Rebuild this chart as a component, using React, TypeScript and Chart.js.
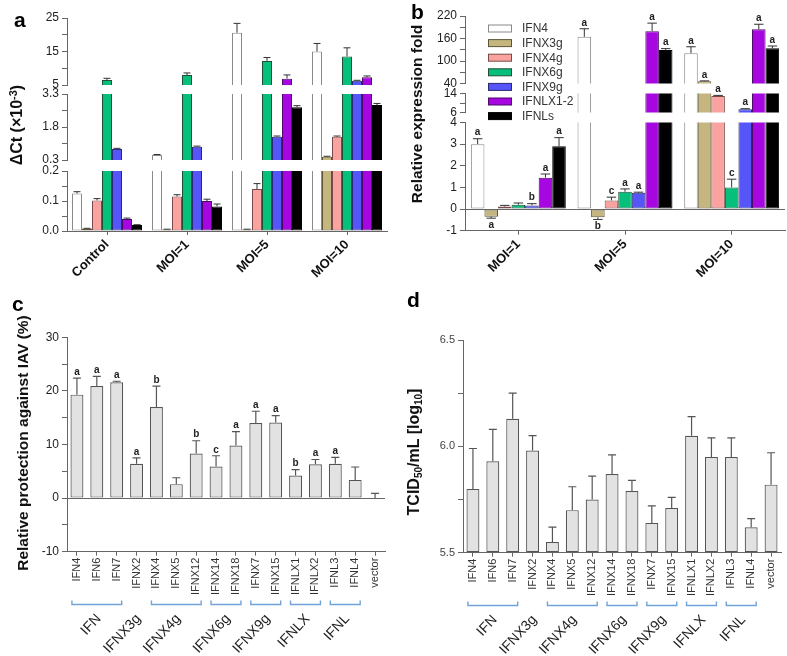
import React, { useEffect, useRef } from 'react';
import { Chart, registerables } from 'chart.js';

Chart.register(...registerables);

const FONT = "'Liberation Sans', Arial, Helvetica, sans-serif";
Chart.defaults.font.family = FONT;
Chart.defaults.color = '#333';

// ---------------- shared series (panels a, b) ----------------
const seriesNames = ['IFN4', 'IFNX3g', 'IFNX4g', 'IFNX6g', 'IFNX9g', 'IFNLX1-2', 'IFNLs'];
const seriesFill = ['#FFFFFF', '#C4B67E', '#F9A2A0', '#05BF7A', '#5656F8', '#A606E0', '#000000'];
const seriesBorder = ['#8A8A8A', '#5F5638', '#7A4B4A', '#1F4F3A', '#2A2A70', '#4A0A66', '#000000'];

// ---------------- panel a : ΔCt (x10^-3) ----------------
const aCategories = ['Control', 'MOI=1', 'MOI=5', 'MOI=10'];
const aIFN4 = [0.125, 0.53, 20.6, 15.0];
const aIFN4Up = [0.131, 0.55, 23.4, 17.4];
const aIFNX3g = [0.008, 0.005, 0.005, 0.45];
const aIFNX3gUp = [0.009, 0.006, 0.006, 0.47];
const aIFNX4g = [0.102, 0.115, 0.14, 1.36];
const aIFNX4gUp = [0.108, 0.121, 0.158, 1.39];
const aIFNX6g = [6.5, 8.0, 12.2, 13.5];
const aIFNX6gUp = [7.0, 8.6, 13.2, 16.1];
const aIFNX9g = [0.8, 0.9, 1.36, 6.3];
const aIFNX9gUp = [0.83, 0.93, 1.39, 6.4];
const aIFNLX12 = [0.04, 0.1, 6.9, 7.3];
const aIFNLX12Up = [0.043, 0.106, 8.0, 7.7];
const aIFNLs = [0.02, 0.082, 2.7, 2.8];
const aIFNLsUp = [0.021, 0.09, 2.77, 2.87];

// ---------------- panel b : relative expression fold ----------------
const bCategories = ['MOI=1', 'MOI=5', 'MOI=10'];
const bIFN4 = [3.0, 164.5, 120.8];
const bIFN4Up = [3.25, 186, 138];
const bIFN4Sig = ['a', 'a', 'a'];
const bIFNX3g = [-0.35, -0.38, 46];
const bIFNX3gUp = [-0.42, -0.48, 47];
const bIFNX3gSig = ['a', 'b', 'a'];
const bIFNX4g = [0.12, 0.4, 12.9];
const bIFNX4gUp = [0.17, 0.55, 13.2];
const bIFNX4gSig = ['', 'c', 'a'];
const bIFNX6g = [0.2, 0.8, 1.0];
const bIFNX6gUp = [0.28, 0.93, 1.38];
const bIFNX6gSig = ['', 'a', 'c'];
const bIFNX9g = [0.17, 0.75, 7.4];
const bIFNX9gUp = [0.25, 0.78, 7.6];
const bIFNX9gSig = ['b', 'a', 'a'];
const bIFNLX12 = [1.45, 179.5, 184.7];
const bIFNLX12Up = [1.62, 201, 198];
const bIFNLX12Sig = ['a', 'a', 'a'];
const bIFNLs = [2.9, 129.5, 134];
const bIFNLsUp = [3.3, 133, 140];
const bIFNLsSig = ['a', 'a', 'a'];

// ---------------- panels c, d ----------------
const cdCategories = ['IFN4', 'IFN6', 'IFN7', 'IFNX2', 'IFNX4', 'IFNX5', 'IFNX12', 'IFNX14', 'IFNX18', 'IFNX7', 'IFNX15', 'IFNLX1', 'IFNLX2', 'IFNL3', 'IFNL4', 'vector'];
const cProtection = [19.3, 20.9, 21.6, 6.4, 17.0, 2.6, 8.3, 5.9, 9.8, 14.0, 14.1, 4.2, 6.3, 6.4, 3.4, 0];
const cProtectionUp = [22.4, 22.7, 21.8, 7.5, 20.9, 3.8, 10.7, 7.9, 12.4, 16.2, 15.4, 5.3, 7.2, 7.6, 5.8, 0.9];
const cSig = ['a', 'a', 'a', 'a', 'b', '', 'b', 'c', 'a', 'a', 'a', 'b', 'a', 'a', '', ''];
const dTiter = [5.80, 5.93, 6.13, 5.98, 5.55, 5.70, 5.75, 5.87, 5.79, 5.64, 5.71, 6.05, 5.95, 5.95, 5.62, 5.82];
const dTiterUp = [5.99, 6.08, 6.25, 6.05, 5.62, 5.81, 5.86, 5.96, 5.84, 5.72, 5.76, 6.14, 6.04, 6.04, 5.66, 5.97];
const groupLabels = ['IFN', 'IFNX3g', 'IFNX4g', 'IFNX6g', 'IFNX9g', 'IFNLX', 'IFNL'];
const groupFrom = [0, 3, 4, 7, 9, 11, 13];
const groupTo = [2, 3, 6, 8, 10, 12, 14];

// ---------------- helpers ----------------
function seriesDatasets(values: number[][], uppers: number[][], sig: string[][] | null, catPct: number) {
  return seriesNames.map((name, k) => ({
    label: name,
    data: values[k].slice(),
    upper: uppers[k],
    letters: sig ? sig[k] : null,
    backgroundColor: seriesFill[k],
    borderColor: seriesBorder[k],
    borderWidth: 1,
    borderSkipped: false,
    clip: 0,
    categoryPercentage: catPct,
    barPercentage: 1,
  }));
}

function errorPlugin(o: { capFrac?: number; capPx?: number; color: string; width: number; letterFont: string; zeroLine?: boolean }) {
  return {
    id: 'errbars',
    afterDatasetsDraw(chart: any) {
      const { ctx, chartArea: ca } = chart;
      const ys = chart.scales.y;
      ctx.save();
      if (o.zeroLine && ys.min < 0 && ys.max > 0) {
        const y0 = Math.round(ys.getPixelForValue(0)) + 0.5;
        ctx.strokeStyle = '#666';
        ctx.lineWidth = 1;
        ctx.beginPath();
        ctx.moveTo(ca.left, y0);
        ctx.lineTo(ca.right, y0);
        ctx.stroke();
      }
      chart.data.datasets.forEach((ds: any, di: number) => {
        const meta = chart.getDatasetMeta(di);
        meta.data.forEach((el: any, i: number) => {
          const v = ds.data[i];
          const u = ds.upper ? ds.upper[i] : null;
          if (u == null) return;
          const x = el.x;
          const cap = o.capPx != null ? o.capPx : el.width * (o.capFrac || 0.6);
          const p0 = ys.getPixelForValue(v);
          const p1 = ys.getPixelForValue(u);
          ctx.save();
          ctx.beginPath();
          ctx.rect(ca.left, ca.top - 1, ca.right - ca.left, ca.bottom - ca.top + 2);
          ctx.clip();
          ctx.strokeStyle = o.color;
          ctx.lineWidth = o.width;
          ctx.beginPath();
          ctx.moveTo(x, p0);
          ctx.lineTo(x, p1);
          ctx.moveTo(x - cap / 2, p1);
          ctx.lineTo(x + cap / 2, p1);
          ctx.stroke();
          ctx.restore();
          const L = ds.letters ? ds.letters[i] : '';
          if (L && u >= ys.min && u <= ys.max) {
            ctx.fillStyle = '#222';
            ctx.font = o.letterFont;
            ctx.textAlign = 'center';
            if (u >= v) {
              ctx.textBaseline = 'bottom';
              ctx.fillText(L, x, p1 - 1);
            } else {
              ctx.textBaseline = 'top';
              ctx.fillText(L, x, p1 + 2);
            }
          }
        });
      });
      ctx.restore();
    },
  };
}

function legendPlugin() {
  return {
    id: 'bLegend',
    afterDraw(chart: any) {
      const ctx = chart.ctx;
      ctx.save();
      seriesNames.forEach((name, k) => {
        const y = 28.5 + 14.6 * k;
        ctx.fillStyle = seriesFill[k];
        ctx.fillRect(96.5, y - 3.5, 23, 7);
        ctx.strokeStyle = seriesBorder[k];
        ctx.lineWidth = 1;
        ctx.strokeRect(96.5, y - 3.5, 23, 7);
        ctx.fillStyle = '#333';
        ctx.font = `12px ${FONT}`;
        ctx.textAlign = 'left';
        ctx.textBaseline = 'middle';
        ctx.fillText(name, 130, y + 0.5);
      });
      ctx.restore();
    },
  };
}

function groupPlugin(bracketY: number, labelY: number) {
  return {
    id: 'groups',
    afterDraw(chart: any) {
      const { ctx } = chart;
      const xs = chart.scales.x;
      groupLabels.forEach((label, g) => {
        const x0 = xs.getPixelForTick(groupFrom[g]);
        const x1 = xs.getPixelForTick(groupTo[g]);
        ctx.save();
        if (groupTo[g] > groupFrom[g]) {
          const a = x0 - 5;
          const b = x1 + 5;
          ctx.strokeStyle = '#72A2D8';
          ctx.lineWidth = 1.4;
          ctx.beginPath();
          ctx.moveTo(a, bracketY - 4);
          ctx.lineTo(a, bracketY);
          ctx.lineTo(b, bracketY);
          ctx.lineTo(b, bracketY - 4);
          ctx.stroke();
        }
        const cx = (x0 + x1) / 2 + 2;
        ctx.translate(cx, labelY);
        ctx.rotate((-47 * Math.PI) / 180);
        ctx.font = `14px ${FONT}`;
        ctx.fillStyle = '#222';
        ctx.textAlign = 'right';
        ctx.textBaseline = 'middle';
        ctx.fillText(label, 0, 0);
        ctx.restore();
      });
    },
  };
}

type Area = { l: number; t: number; r: number; b: number };
type XAxisSpec = { height: number; rotation: number; font: any; color: string; tickLen: number };

function makeConfig(s: {
  canvasW: number;
  canvasH: number;
  area: Area;
  labels: string[];
  datasets: any[];
  yMin: number;
  yMax: number;
  yStep: number;
  yLabel: (v: number, i: number) => string;
  yFont: number;
  yColor?: string;
  xAxis?: XAxisSpec;
  plugins: any[];
}) {
  const xa = s.xAxis;
  const padBottom = s.canvasH - s.area.b - (xa ? xa.height : 0);
  return {
    type: 'bar',
    data: { labels: s.labels, datasets: s.datasets },
    options: {
      responsive: false,
      maintainAspectRatio: false,
      animation: false,
      events: [],
      layout: { padding: { left: 0, top: s.area.t, right: s.canvasW - s.area.r, bottom: padBottom } },
      plugins: { legend: { display: false }, tooltip: { enabled: false }, title: { display: false } },
      scales: {
        x: xa
          ? {
              display: true,
              offset: true,
              grid: { display: true, drawOnChartArea: false, drawTicks: true, tickLength: xa.tickLen, color: '#666', offset: false },
              border: { display: true, color: '#666', width: 1 },
              ticks: { autoSkip: false, minRotation: xa.rotation, maxRotation: xa.rotation, font: xa.font, color: xa.color, padding: 2 },
              afterFit: (sc: any) => {
                sc.height = xa.height;
              },
            }
          : { display: false, offset: true },
        y: {
          min: s.yMin,
          max: s.yMax,
          ticks: {
            stepSize: s.yStep,
            autoSkip: false,
            callback: (v: any, i: number) => s.yLabel(Number(v), i),
            font: { size: s.yFont },
            color: s.yColor || '#222',
            padding: 3,
          },
          grid: { display: true, drawOnChartArea: false, drawTicks: true, tickLength: 5, color: '#666' },
          border: { display: true, color: '#666', width: 1 },
          afterFit: (sc: any) => {
            sc.width = s.area.l;
          },
        },
      },
    },
    plugins: s.plugins,
  };
}

function ChartBox({ left, top, width, height, make }: { left: number; top: number; width: number; height: number; make: () => any }) {
  const ref = useRef<HTMLCanvasElement>(null);
  useEffect(() => {
    const chart = new Chart(ref.current as HTMLCanvasElement, make());
    return () => chart.destroy();
  }, []);
  return <canvas ref={ref} width={width} height={height} style={{ position: 'absolute', left, top, width, height }} />;
}

const even = (fmt: (v: number) => string) => (v: number, i: number) => (i % 2 === 0 ? fmt(v) : '');

// ---------------- panel builders ----------------
const aValues = [aIFN4, aIFNX3g, aIFNX4g, aIFNX6g, aIFNX9g, aIFNLX12, aIFNLs];
const aUppers = [aIFN4Up, aIFNX3gUp, aIFNX4gUp, aIFNX6gUp, aIFNX9gUp, aIFNLX12Up, aIFNLsUp];
const bValues = [bIFN4, bIFNX3g, bIFNX4g, bIFNX6g, bIFNX9g, bIFNLX12, bIFNLs];
const bUppers = [bIFN4Up, bIFNX3gUp, bIFNX4gUp, bIFNX6gUp, bIFNX9gUp, bIFNLX12Up, bIFNLsUp];
const bSigs = [bIFN4Sig, bIFNX3gSig, bIFNX4gSig, bIFNX6gSig, bIFNX9gSig, bIFNLX12Sig, bIFNLsSig];

const boldX: XAxisSpec = { height: 60, rotation: 45, font: { size: 13, weight: 'bold' }, color: '#111', tickLen: 4 };
const vertX: XAxisSpec = { height: 50, rotation: 90, font: { size: 11 }, color: '#333', tickLen: 4 };

function panelA(seg: number) {
  const W = 392, H = 300;
  const segs = [
    { t: 18, b: 85, min: 5, max: 25, step: 5, fmt: (v: number) => String(v) },
    { t: 94, b: 160, min: 0.3, max: 3.3, step: 0.75, fmt: (v: number) => v.toFixed(1) },
    { t: 171, b: 231, min: 0, max: 0.2, step: 0.05, fmt: (v: number) => v.toFixed(1) },
  ];
  const s = segs[seg];
  return () =>
    makeConfig({
      canvasW: W,
      canvasH: H,
      area: { l: 67, t: s.t, r: 387, b: s.b },
      labels: aCategories,
      datasets: seriesDatasets(aValues, aUppers, null, 0.875),
      yMin: s.min,
      yMax: s.max,
      yStep: s.step,
      yLabel: even(s.fmt),
      yFont: 12,
      xAxis: seg === 2 ? boldX : undefined,
      plugins: [errorPlugin({ capFrac: 0.7, color: '#333', width: 1, letterFont: `10px ${FONT}` })],
    });
}

function panelB(seg: number) {
  const W = 395, H = 300;
  const segs = [
    { t: 16, b: 83.5, min: 40, max: 220, step: 30, lab: even((v) => String(v)) },
    { t: 93.5, b: 112.5, min: 6, max: 14, step: 4, lab: even((v) => String(v)) },
    { t: 122.5, b: 230.7, min: -1, max: 4, step: 1, lab: (v: number) => String(v) },
  ];
  const s = segs[seg];
  const plugins: any[] = [errorPlugin({ capFrac: 0.7, color: '#333', width: 1, letterFont: `bold 10px ${FONT}`, zeroLine: true })];
  if (seg === 2) plugins.push(legendPlugin());
  return () =>
    makeConfig({
      canvasW: W,
      canvasH: H,
      area: { l: 73, t: s.t, r: 393, b: s.b },
      labels: bCategories,
      datasets: seriesDatasets(bValues, bUppers, bSigs, 0.89),
      yMin: s.min,
      yMax: s.max,
      yStep: s.step,
      yLabel: s.lab,
      yFont: 12,
      xAxis: seg === 2 ? boldX : undefined,
      plugins,
    });
}

function greyDataset(values: number[], uppers: number[], sig: string[] | null, base?: number) {
  const ds: any = {
    label: 'value',
    data: values.slice(),
    upper: uppers,
    letters: sig,
    backgroundColor: '#E2E2E2',
    borderColor: '#555',
    borderWidth: 1.2,
    borderSkipped: false,
    clip: 0,
    categoryPercentage: 1,
    barPercentage: 0.65,
  };
  if (base != null) ds.base = base;
  return [ds];
}

function panelC() {
  return () =>
    makeConfig({
      canvasW: 392,
      canvasH: 356,
      area: { l: 67, t: 37.3, r: 385, b: 251.7 },
      labels: cdCategories,
      datasets: greyDataset(cProtection, cProtectionUp, cSig),
      yMin: -10,
      yMax: 30,
      yStep: 5,
      yLabel: even((v) => String(v)),
      yFont: 12,
      xAxis: vertX,
      plugins: [errorPlugin({ capPx: 8, color: '#555', width: 1.2, letterFont: `bold 10px ${FONT}`, zeroLine: true }), groupPlugin(304.5, 316.5)],
    });
}

function panelD() {
  return () =>
    makeConfig({
      canvasW: 395,
      canvasH: 356,
      area: { l: 71, t: 40, r: 389, b: 252.7 },
      labels: cdCategories,
      datasets: greyDataset(dTiter, dTiterUp, null, 5.5),
      yMin: 5.5,
      yMax: 6.5,
      yStep: 0.25,
      yLabel: even((v) => v.toFixed(1)),
      yFont: 11,
      yColor: '#444',
      xAxis: vertX,
      plugins: [errorPlugin({ capPx: 8, color: '#555', width: 1.2, letterFont: `10px ${FONT}` }), groupPlugin(305.5, 317.5)],
    });
}

function VTitle({ x, y, size, children }: { x: number; y: number; size: number; children: any }) {
  return (
    <div
      style={{
        position: 'absolute',
        left: x,
        top: y,
        transform: 'translate(-50%, -50%) rotate(-90deg)',
        whiteSpace: 'nowrap',
        font: `bold ${size}px ${FONT}`,
        lineHeight: `${size}px`,
        color: '#111',
      }}
    >
      {children}
    </div>
  );
}

function PanelLetter({ x, y, t }: { x: number; y: number; t: string }) {
  return (
    <div style={{ position: 'absolute', left: x, top: y, font: `bold 21px ${FONT}`, lineHeight: '21px', color: '#000' }}>{t}</div>
  );
}

export default function App() {
  return (
    <div style={{ position: 'absolute', left: 0, top: 0, width: 787, height: 656, background: '#fff', overflow: 'hidden', fontFamily: FONT }}>
      <ChartBox left={0} top={0} width={392} height={300} make={panelA(0)} />
      <ChartBox left={0} top={0} width={392} height={300} make={panelA(1)} />
      <ChartBox left={0} top={0} width={392} height={300} make={panelA(2)} />
      <ChartBox left={392} top={0} width={395} height={300} make={panelB(0)} />
      <ChartBox left={392} top={0} width={395} height={300} make={panelB(1)} />
      <ChartBox left={392} top={0} width={395} height={300} make={panelB(2)} />
      <ChartBox left={0} top={300} width={392} height={356} make={panelC()} />
      <ChartBox left={392} top={300} width={395} height={356} make={panelD()} />

      <VTitle x={15} y={125} size={16}>
        ΔCt (×10<sup style={{ fontSize: '11px', verticalAlign: '5px' }}>-3</sup>)
      </VTitle>
      <VTitle x={417} y={114} size={15.5}>Relative expression fold</VTitle>
      <VTitle x={22.5} y={443} size={15.5}>Relative protection against IAV (%)</VTitle>
      <VTitle x={416} y={452} size={16}>
        TCID<sub style={{ fontSize: '10px', verticalAlign: '-3px' }}>50</sub>/mL [log<sub style={{ fontSize: '10px', verticalAlign: '-3px' }}>10</sub>]
      </VTitle>

      <PanelLetter x={14} y={9} t="a" />
      <PanelLetter x={411} y={1} t="b" />
      <PanelLetter x={12} y={293} t="c" />
      <PanelLetter x={407} y={289} t="d" />
    </div>
  );
}
